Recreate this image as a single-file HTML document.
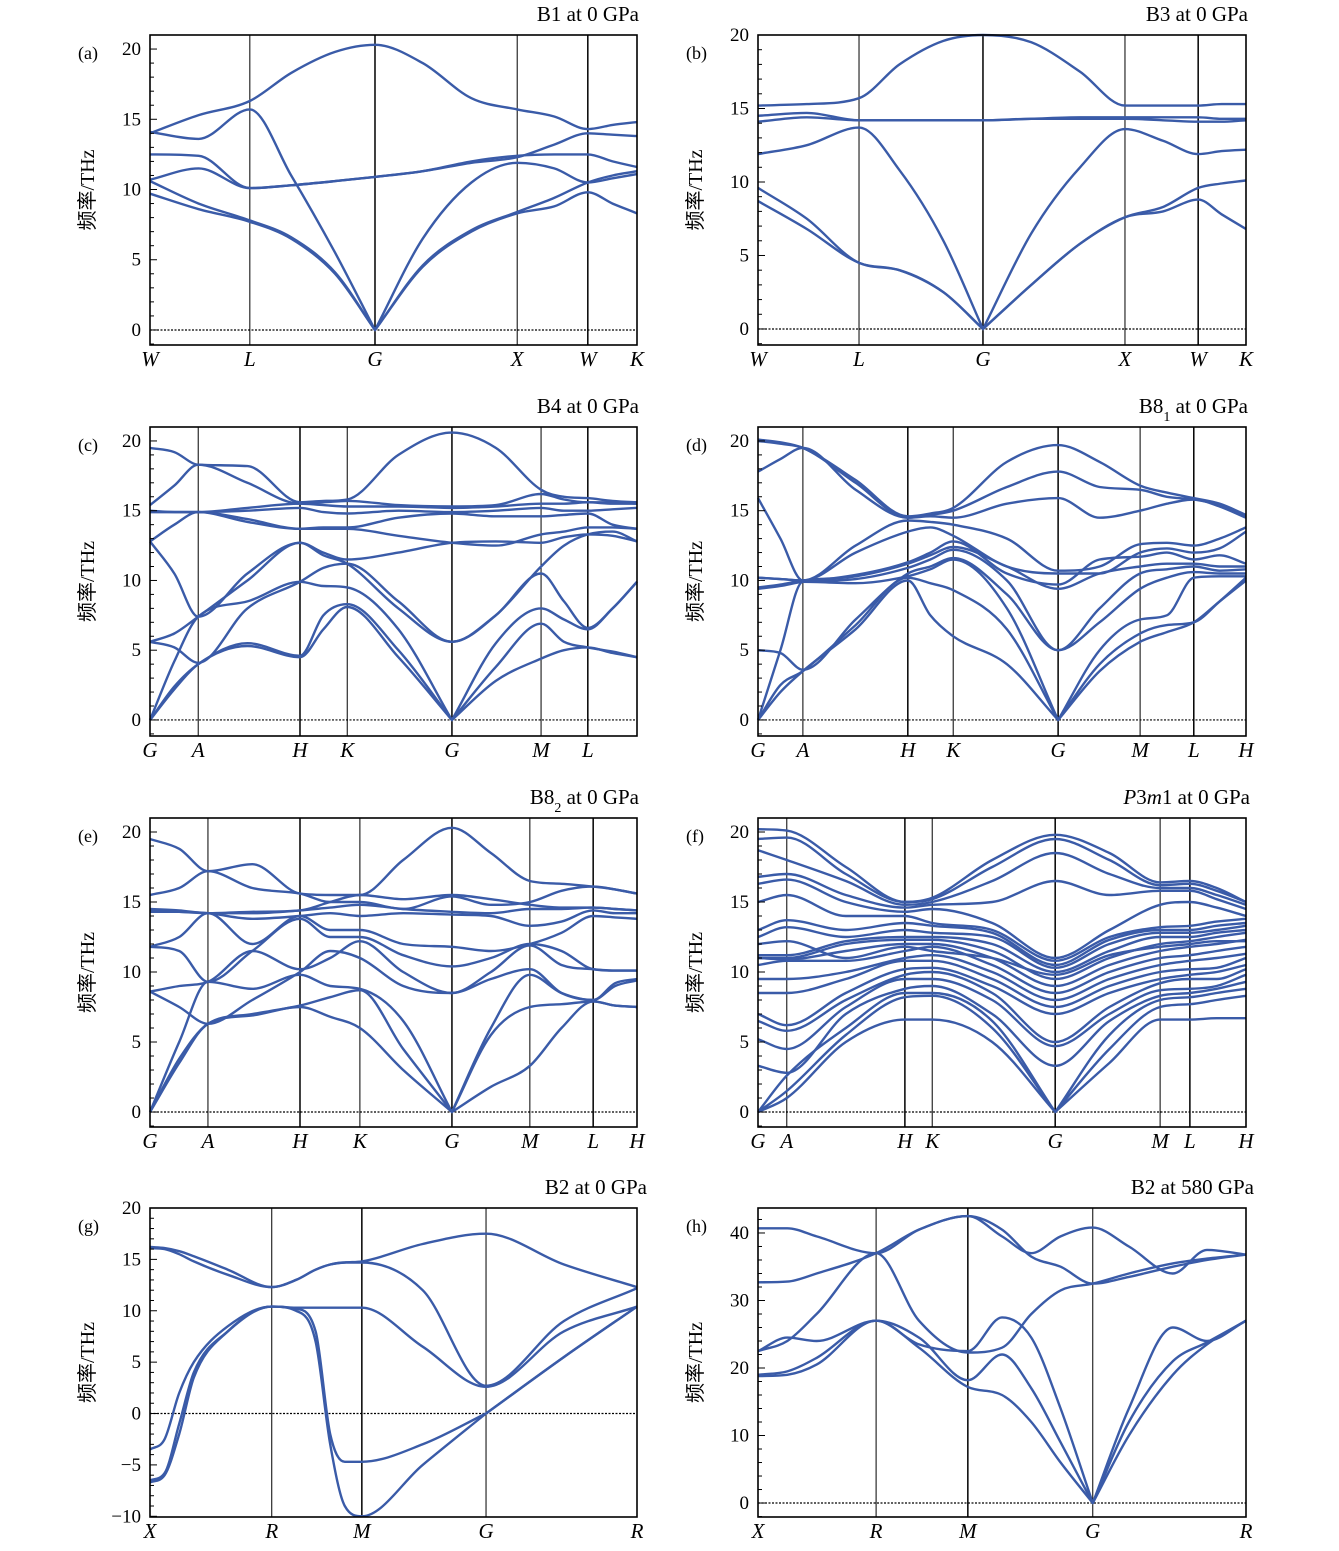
<!DOCTYPE html>
<html><head><meta charset="utf-8"><style>
html,body{margin:0;padding:0;background:#fff;}
svg{display:block;}
</style></head><body>
<svg id="fig" width="1339" height="1551" viewBox="0 0 1339 1551" xmlns="http://www.w3.org/2000/svg"></svg>
<script>
// ---- Panel (a) B1 ----
const aLabels=["W","L","G","X","W","K"];
const aKpts=[0,0.205,0.462,0.754,0.899,1];
const aXs=[0,.10,.205,.29,.38,.462,.56,.66,.754,.83,.899,.95,1];
const aBands=[
[9.7,8.6,7.7,6.5,4.0,0,4.5,7.0,8.3,8.8,9.8,9.0,8.3],
[10.6,9.0,7.8,6.6,4.1,0,4.6,7.1,8.4,9.4,10.5,11.0,11.3],
[14.1,13.6,15.7,11.0,5.5,0,6.5,10.5,11.9,11.5,10.5,10.8,11.1],
[10.7,11.5,10.1,10.3,10.6,10.9,11.3,11.9,12.3,13.2,14.0,13.9,13.8],
[12.5,12.4,10.1,10.3,10.6,10.9,11.3,12.0,12.4,12.5,12.5,12.0,11.6],
[14.0,15.3,16.3,18.3,19.8,20.3,19.0,16.5,15.7,15.2,14.3,14.6,14.8]];
const aYTicks=[0,5,10,15,20];
// ---- Panel (b) B3 ----
const bLabels=["W","L","G","X","W","K"];
const bKpts=[0,0.207,0.461,0.752,0.902,1];
const bXs=[0,.10,.207,.29,.38,.461,.56,.66,.752,.83,.902,.95,1];
const bBands=[
[8.7,6.8,4.5,4.0,2.5,0,3.0,5.8,7.6,8.0,8.8,7.8,6.8],
[9.6,7.5,4.5,4.0,2.5,0,3.0,5.8,7.6,8.3,9.6,9.9,10.1],
[11.9,12.5,13.7,10.8,6.0,0,6.5,11.0,13.6,12.8,11.9,12.1,12.2],
[14.1,14.4,14.2,14.2,14.2,14.2,14.3,14.3,14.3,14.2,14.1,14.1,14.2],
[14.5,14.7,14.2,14.2,14.2,14.2,14.3,14.4,14.4,14.4,14.4,14.3,14.3],
[15.2,15.3,15.7,18.0,19.6,20,19.5,17.5,15.2,15.2,15.2,15.3,15.3]];
const bYTicks=[0,5,10,15,20];
// ---- Panel (c) B4 ----
const cLabels=["G","A","H","K","G","M","L",""];
const cKpts=[0,0.099,0.308,0.405,0.62,0.803,0.899,1];
const cXs=[0,.05,.099,.2,.308,.356,.405,.51,.62,.71,.803,.85,.899,.95,1];
const cBands=[
[0,2.2,4.0,5.3,4.5,6.5,8.1,4.5,0,2.8,4.4,5.0,5.2,4.8,4.5],
[0,2.4,4.0,5.5,4.6,7.5,8.3,5.0,0,3.8,6.9,5.6,5.2,4.9,4.5],
[0,4.2,7.4,8.5,9.9,9.6,9.5,6.5,0,5.5,8.0,7.2,6.5,8.0,9.9],
[5.6,5.2,4.1,8.0,9.9,10.9,11.2,8.5,5.6,7.5,10.5,8.5,6.6,8.0,9.9],
[5.6,6.2,7.4,10.0,12.7,11.8,11.2,8.0,5.6,7.5,11.0,12.5,13.3,13.5,12.8],
[12.8,10.5,7.4,10.5,12.7,12.0,11.5,12.0,12.7,12.8,12.7,13.1,13.3,13.2,12.8],
[12.8,14.0,14.9,14.2,13.7,13.7,13.7,13.2,12.7,12.5,13.3,13.5,13.8,13.8,13.7],
[14.9,14.9,14.9,14.4,13.7,13.8,13.8,14.5,14.8,14.6,14.6,14.7,14.8,14.0,13.7],
[14.9,14.9,14.9,15.0,15.2,14.9,14.8,15.0,14.9,15.0,15.2,15.0,15.0,15.1,15.2],
[15.0,14.9,14.9,15.2,15.5,15.4,15.3,15.3,15.2,15.3,15.5,15.5,15.6,15.5,15.5],
[15.4,16.8,18.3,17.0,15.5,15.6,15.7,15.4,15.3,15.4,16.2,15.8,15.6,15.6,15.5],
[19.5,19.2,18.3,18.2,15.6,15.7,15.8,19.0,20.6,19.5,16.5,16.0,15.9,15.7,15.6]];
const cYTicks=[0,5,10,15,20];
// ---- Panel (d) B8_1 ----
const dLabels=["G","A","H","K","G","M","L","H"];
const dKpts=[0,0.092,0.307,0.40,0.615,0.783,0.893,1];
const dXs=[0,.046,.092,.2,.307,.353,.40,.51,.615,.70,.783,.838,.893,.946,1];
const dBands=[
[0,2.0,3.5,6.5,10.0,7.5,6.0,4.0,0,3.5,5.6,6.3,7.0,8.5,10.0],
[0,2.5,3.5,6.8,10.2,9.8,9.3,6.5,0,4.0,6.2,6.8,7.0,8.5,10.2],
[0,5.0,9.9,9.8,10.3,10.8,11.5,8.0,0,5.0,7.2,7.5,10.2,10.3,10.3],
[5.0,4.8,3.6,7.2,10.5,11.0,11.6,9.0,5.0,7.0,9.4,10.2,10.6,10.5,10.5],
[9.4,9.6,9.9,10.1,10.9,11.5,12.2,10.0,5.0,8.0,10.5,10.8,11.0,10.7,10.8],
[9.5,9.7,10.0,10.3,11.2,11.8,12.4,11.0,9.4,10.5,11.0,11.2,11.2,11.0,11.0],
[10.2,10.1,10.0,10.4,11.3,12.0,12.8,10.5,9.7,11.5,11.7,12.0,11.5,11.8,11.2],
[10.2,10.1,10.0,12.0,13.5,13.8,13.2,11.0,10.5,10.5,12.0,12.3,12.0,12.3,13.5],
[15.9,13.0,10.0,12.5,14.3,14.2,14.0,13.0,10.7,11.0,12.6,12.7,12.5,13.0,13.8],
[17.8,18.7,19.5,16.5,14.5,14.6,14.5,15.5,15.9,14.5,15.0,15.5,15.8,15.3,14.5],
[20.0,19.8,19.5,17.0,14.5,14.7,15.0,16.7,17.8,16.7,16.5,16.0,15.8,15.4,14.6],
[20.1,19.9,19.5,17.2,14.6,14.8,15.2,18.5,19.7,18.5,16.8,16.3,15.9,15.5,14.7]];
const dYTicks=[0,5,10,15,20];
// ---- Panel (e) B8_2 ----
const eLabels=["G","A","H","K","G","M","L","H"];
const eKpts=[0,0.119,0.308,0.431,0.62,0.78,0.91,1];
const eXs=[0,.06,.119,.21,.308,.37,.431,.52,.62,.70,.78,.845,.91,.955,1];
const eBands=[
[0,3.5,6.3,6.9,7.5,6.8,6.0,3.0,0,1.8,3.3,6.0,7.9,7.6,7.5],
[0,3.8,6.3,7.0,7.6,8.2,8.7,4.5,0,5.5,7.5,7.7,7.9,7.6,7.5],
[0,5.0,9.3,8.8,9.8,9.0,8.8,6.5,0,6.0,9.8,8.5,8.0,9.0,9.4],
[8.6,7.5,6.3,8.0,10.0,11.5,11.0,9.0,8.5,9.5,10.2,8.5,8.0,9.2,9.5],
[8.6,9.0,9.3,11.5,10.2,11.0,12.2,10.0,8.5,10.0,11.9,10.5,10.2,10.1,10.1],
[11.8,11.5,9.3,11.5,13.8,12.5,12.5,11.2,10.4,11.0,12.0,11.5,10.2,10.1,10.1],
[11.8,12.5,14.2,12.0,14.0,13.0,13.0,12.0,11.8,11.5,12.0,12.8,14.0,13.9,13.8],
[14.3,14.3,14.2,13.8,14.0,14.2,14.0,14.2,14.1,14.0,13.3,13.6,14.4,14.2,14.2],
[14.5,14.4,14.2,14.2,14.4,14.6,14.8,14.5,14.3,14.2,14.5,14.5,14.6,14.5,14.4],
[15.5,16.0,17.2,16.0,15.6,15.0,15.0,14.5,15.4,14.8,15.0,15.8,16.1,15.9,15.6],
[19.5,18.8,17.2,17.7,15.6,15.5,15.5,18.0,20.3,18.5,16.5,16.3,16.1,15.9,15.6],
[14.4,14.3,14.2,14.3,14.4,15.0,15.5,15.2,15.5,15.2,14.8,14.6,14.6,14.5,14.4]];
const eYTicks=[0,5,10,15,20];
// ---- Panel (f) P3m1 ----
const fLabels=["G","A","H","K","G","M","L","H"];
const fKpts=[0,0.059,0.301,0.357,0.609,0.824,0.885,1];
const fXs=[0,.059,.18,.301,.357,.48,.609,.72,.824,.885,.94,1];
const fBands=[
[0,1.0,5.0,6.6,6.6,5.0,0,3.5,6.6,6.6,6.7,6.7],
[0,1.5,5.5,8.2,8.3,6.0,0,4.5,7.5,7.7,8.0,8.3],
[0,2.6,6.0,8.5,8.5,6.5,0,5.5,8.0,8.2,8.5,8.8],
[3.3,2.8,7.0,8.8,9.0,7.0,3.3,6.5,8.3,8.5,8.8,9.3],
[5.2,4.5,7.5,9.5,9.5,8.0,4.7,7.0,8.7,8.8,9.0,9.8],
[6.5,5.8,8.0,9.8,10.0,8.5,5.0,7.5,9.2,9.5,9.5,10.2],
[7.0,6.2,8.5,10.2,10.3,9.0,7.0,8.5,9.5,9.8,10.0,10.5],
[8.5,8.5,9.5,10.8,10.8,9.5,7.5,9.0,10.0,10.2,10.3,11.0],
[9.5,9.5,10.0,11.0,11.2,10.0,8.0,9.5,10.5,10.8,11.0,11.3],
[10.5,10.8,10.8,11.5,11.8,10.5,8.5,10.0,11.0,11.2,11.5,11.8],
[11.0,10.9,11.5,12.0,12.0,11.0,9.0,10.5,11.5,11.8,12.0,12.3],
[11.0,11.0,12.0,12.3,12.3,11.5,9.5,11.0,12.0,12.2,12.5,12.8],
[11.2,11.2,12.2,12.5,12.5,12.0,10.0,11.5,12.5,12.5,12.8,13.0],
[12.5,13.2,12.5,13.0,12.8,12.5,10.3,12.0,12.8,12.8,13.0,13.3],
[13.0,13.7,13.0,13.5,13.3,12.8,10.5,12.3,13.0,13.0,13.3,13.5],
[15.0,15.5,14.0,14.0,13.5,13.0,10.8,12.5,13.2,13.3,13.6,13.8],
[16.3,16.6,15.0,14.3,14.5,13.5,11.0,13.0,14.8,15.0,14.6,14.0],
[16.8,17.0,15.5,14.6,14.8,15.0,16.5,15.5,15.8,15.8,15.2,14.5],
[18.7,18.0,16.5,14.8,15.0,16.5,18.5,17.0,16.0,16.0,15.5,14.8],
[19.5,19.6,17.0,15.0,15.2,17.5,19.5,18.0,16.2,16.3,15.8,15.0],
[20.2,20.1,17.5,15.0,15.3,18.0,19.8,18.5,16.4,16.5,16.0,15.0],
[12.0,12.2,11.0,11.8,11.5,11.0,9.8,11.2,11.8,12.0,12.2,12.2]];
const fYTicks=[0,5,10,15,20];
// ---- Panel (g) B2 0 GPa ----
const gLabels=["X","R","M","G","R"];
const gKpts=[0,0.25,0.435,0.69,1];
const gXs=[0,.03,.06,.09,.16,.25,.30,.34,.37,.40,.435,.56,.69,.85,1];
const gBands=[
[-6.7,-6.0,-2.0,3.5,8.0,10.4,10.0,7.0,-3.0,-9.0,-10.0,-5.0,0,5.5,10.4],
[-3.5,-2.5,2.0,5.0,8.5,10.4,10.2,8.0,-2.0,-4.7,-4.7,-3.0,0,5.5,10.4],
[-6.5,-5.8,-1.0,4.0,8.0,10.4,10.3,10.3,10.3,10.3,10.3,6.5,2.6,8.0,10.4],
[16.1,16.0,15.5,14.8,13.5,12.3,13.0,14.0,14.5,14.7,14.7,12.0,2.7,9.0,12.2],
[16.2,16.1,15.8,15.3,14.0,12.3,13.0,14.0,14.5,14.7,14.8,16.5,17.5,14.5,12.3]];
const gYTicks=[-10,-5,0,5,10,15,20];
// ---- Panel (h) B2 580 GPa ----
const hLabels=["X","R","M","G","R"];
const hKpts=[0,0.242,0.43,0.686,1];
const hXs=[0,.06,.12,.242,.33,.43,.5,.56,.62,.686,.76,.85,.92,1];
const hBands=[
[18.8,19.0,20.5,27.0,23.0,17.2,16.0,12.0,6.0,0,10.0,19.0,23.5,27.0],
[19.0,19.5,21.5,27.0,24.5,18.2,22.0,17.0,9.0,0,12.0,21.0,23.8,27.0],
[22.5,24.5,24.0,27.0,23.5,22.5,27.5,24.5,14.0,0,14.0,26.0,24.0,27.0],
[22.5,24.0,28.0,37.0,27.0,22.3,23.0,28.0,31.5,32.5,34.0,35.5,36.2,36.8],
[32.7,32.8,34.0,37.0,40.5,42.5,40.5,36.5,35.0,32.5,33.5,35.0,36.0,36.8],
[40.7,40.7,39.5,37.0,40.5,42.5,39.5,37.0,39.5,40.8,38.0,34.0,37.5,36.8]];
const hYTicks=[0,10,20,30,40];

const NS="http://www.w3.org/2000/svg";
const svg=document.getElementById('fig');
function mk(tag,attrs,parent){const e=document.createElementNS(NS,tag);for(const k in attrs)e.setAttribute(k,attrs[k]);(parent||svg).appendChild(e);return e;}

function monoPath(px,py,vals){
  const n=px.length;const d=[],mL=[],mR=[];
  for(let i=0;i<n-1;i++){const dx=px[i+1]-px[i];d.push(dx===0?0:(py[i+1]-py[i])/dx);}
  mL[0]=mR[0]=d[0];mL[n-1]=mR[n-1]=d[n-2];
  for(let i=1;i<n-1;i++){
    if(vals[i]===0){mL[i]=d[i-1];mR[i]=d[i];continue;}
    let m; if(d[i-1]*d[i]<=0)m=0; else m=(d[i-1]+d[i])/2; mL[i]=mR[i]=m; }
  for(let i=0;i<n-1;i++){
    if(vals[i]===0||vals[i+1]===0)continue;
    if(d[i]===0){mR[i]=0;mL[i+1]=0;continue;}
    const a=mR[i]/d[i],b=mL[i+1]/d[i];const s=a*a+b*b;
    if(s>9){const t=3/Math.sqrt(s);mR[i]=t*a*d[i];mL[i+1]=t*b*d[i]; if(vals[i]!==0)mL[i]=mR[i]; if(vals[i+1]!==0)mR[i+1]=mL[i+1];} }
  let p="M"+px[0].toFixed(1)+","+py[0].toFixed(1);
  for(let i=0;i<n-1;i++){const h=(px[i+1]-px[i])/3;
    p+=" C"+(px[i]+h).toFixed(1)+","+(py[i]+mR[i]*h).toFixed(1)+" "+(px[i+1]-h).toFixed(1)+","+(py[i+1]-mL[i+1]*h).toFixed(1)+" "+px[i+1].toFixed(1)+","+py[i+1].toFixed(1);}
  return p;
}

function panel(cfg){
  const g=mk('g',{});
  
  
  const {x0,x1,y0,y1,v0,v1}=cfg;
  const sx=f=>x0+f*(x1-x0);
  const sy=v=>y1-(v-v0)/(v1-v0)*(y1-y0);
  const zl=mk('line',{x1:x0,x2:x1,y1:sy(0),y2:sy(0),stroke:'#000','stroke-width':1.2,'stroke-dasharray':'2,1.5'},g);
  
  
  cfg.kpts.forEach((k,i)=>{ if(i===0||i===cfg.kpts.length-1)return;
    const l=mk('line',{x1:sx(k),x2:sx(k),y1:y0,y2:y1,stroke:'#000','stroke-width':(i%2?1:1.5)},g);
    
    });
  cfg.bands.forEach((b,bi)=>{
    const px=cfg.xs.map(sx),py=b.map(sy);
    const p=mk('path',{d:monoPath(px,py,b),fill:'none',stroke:'#3a5ba8','stroke-width':2.4,'stroke-linejoin':'round'},g);
    
    
  });
  const fr=mk('rect',{x:x0,y:y0,width:x1-x0,height:y1-y0,fill:'none',stroke:'#000','stroke-width':1.6},g);
  
  
  const step=cfg.yticks[1]-cfg.yticks[0];const minor=step/5;
  for(let v=Math.ceil(v0/minor)*minor; v<=v1+1e-6; v+=minor){
    const major=Math.abs(v/step-Math.round(v/step))<1e-6;
    mk('line',{x1:x0,x2:x0+(major?7:4),y1:sy(v),y2:sy(v),stroke:'#000','stroke-width':1},g);
  }
  cfg.yticks.forEach(v=>{
    const t=mk('text',{x:x0-9,y:sy(v)+6,'text-anchor':'end','font-family':'"Liberation Serif",serif','font-size':19},g);
    t.textContent=(v<0?'\u2212'+(-v):String(v));
    
    
  });
  cfg.labels.forEach((lab,i)=>{ if(!lab)return;
    const t=mk('text',{x:sx(cfg.kpts[i]),y:y1+21,'text-anchor':'middle','font-family':'"Liberation Serif",serif','font-style':'italic','font-size':21},g);
    t.textContent=lab;
    
    });
  const tt=mk('text',{x:cfg.tx,y:y0-14,'text-anchor':'end','font-family':'"Liberation Serif",serif','font-size':21},g);
  tt.innerHTML=cfg.title;
  
  
  const pl=mk('text',{x:x0-72,y:y0+24,'font-family':'"Liberation Serif",serif','font-size':18},g);
  pl.textContent='('+cfg.id+')';
  
  
  const yc=(y0+y1)/2, yx=x0-56;
  const yt=mk('text',{x:yx,y:yc,transform:'rotate(-90 '+yx+' '+yc+')','text-anchor':'middle','font-family':'"Liberation Serif","Noto Sans CJK SC",sans-serif','font-size':20},g);
  yt.textContent='频率/THz';
  
  
}
const L={x0:150,x1:637,tx:639}, R={x0:758,x1:1246,tx:1248};
panel({id:'a',...L,y0:35,y1:345,v0:-1.07,v1:21.0,kpts:aKpts,labels:aLabels,xs:aXs,bands:aBands,yticks:aYTicks,title:'B1 at 0 GPa'});
panel({id:'b',...R,y0:35,y1:345,v0:-1.09,v1:20,kpts:bKpts,labels:bLabels,xs:bXs,bands:bBands,yticks:bYTicks,title:'B3 at 0 GPa'});
panel({id:'c',...L,y0:427,y1:736,v0:-1.15,v1:21.0,kpts:cKpts,labels:cLabels,xs:cXs,bands:cBands,yticks:cYTicks,title:'B4 at 0 GPa'});
panel({id:'d',...R,y0:427,y1:736,v0:-1.15,v1:21.0,kpts:dKpts,labels:dLabels,xs:dXs,bands:dBands,yticks:dYTicks,title:'B8<tspan baseline-shift="sub" font-size="14">1</tspan> at 0 GPa'});
panel({id:'e',...L,y0:818,y1:1127,v0:-1.07,v1:21.0,kpts:eKpts,labels:eLabels,xs:eXs,bands:eBands,yticks:eYTicks,title:'B8<tspan baseline-shift="sub" font-size="14">2</tspan> at 0 GPa'});
panel({id:'f',...R,tx:1250,y0:818,y1:1127,v0:-1.07,v1:21.0,kpts:fKpts,labels:fLabels,xs:fXs,bands:fBands,yticks:fYTicks,title:'<tspan font-style="italic">P</tspan>3<tspan font-style="italic">m</tspan>1 at 0 GPa'});
panel({id:'g',...L,tx:647,y0:1208,y1:1517,v0:-10.07,v1:20,kpts:gKpts,labels:gLabels,xs:gXs,bands:gBands,yticks:gYTicks,title:'B2 at 0 GPa'});
panel({id:'h',...R,tx:1254,y0:1208,y1:1517,v0:-2.07,v1:43.7,kpts:hKpts,labels:hLabels,xs:hXs,bands:hBands,yticks:hYTicks,title:'B2 at 580 GPa'});
</script>
</body></html>
